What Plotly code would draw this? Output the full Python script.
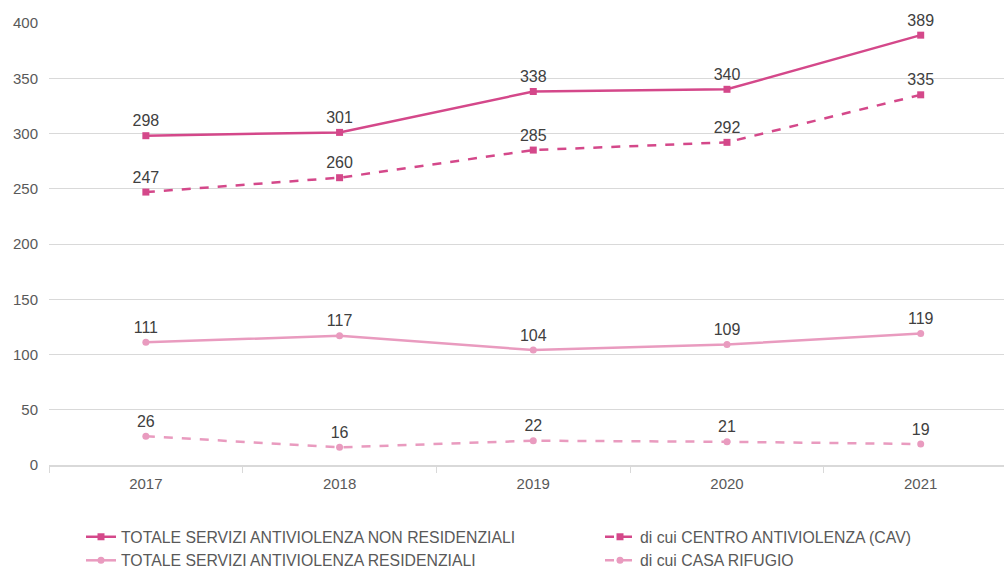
import plotly.graph_objects as go

anni = ["2017", "2018", "2019", "2020", "2021"]
non_residenziali = [298, 301, 338, 340, 389]
cav = [247, 260, 285, 292, 335]
residenziali = [111, 117, 104, 109, 119]
casa_rifugio = [26, 16, 22, 21, 19]

DARK = "#d4488a"
LIGHT = "#e99bbf"
TEXT = "#404040"

series = [
    ("TOTALE SERVIZI ANTIVIOLENZA NON RESIDENZIALI", non_residenziali, DARK, "solid", "square", "legend"),
    ("TOTALE SERVIZI ANTIVIOLENZA RESIDENZIALI", residenziali, LIGHT, "solid", "circle", "legend"),
    ("di cui CENTRO ANTIVIOLENZA (CAV)", cav, DARK, "dash", "square", "legend2"),
    ("di cui CASA RIFUGIO", casa_rifugio, LIGHT, "dash", "circle", "legend2"),
]

fig = go.Figure()
for name, vals, color, dash, symbol, leg in series:
    fig.add_trace(go.Scatter(
        x=anni, y=vals, name=name, mode="lines+markers+text",
        line=dict(color=color, width=2.5, dash=dash),
        marker=dict(color=color, size=7, symbol=symbol),
        text=[str(v) for v in vals], textposition="top center",
        textfont=dict(size=16, color=TEXT, family="Liberation Sans"),
        legend=leg, cliponaxis=False,
    ))

legend_style = dict(
    orientation="v", xref="container", yref="container",
    xanchor="left", yanchor="top",
    font=dict(size=15.8, color="#595959", family="Liberation Sans"),
    bgcolor="rgba(0,0,0,0)", itemwidth=30, tracegroupgap=0,
)

fig.update_layout(
    width=1004, height=571,
    margin=dict(l=49, r=0, t=23, b=106, autoexpand=False),
    paper_bgcolor="white", plot_bgcolor="white",
    font=dict(family="Liberation Sans", size=15, color="#595959"),
    xaxis=dict(
        type="category", range=[-0.5, 4.43], tickson="boundaries",
        ticks="outside", ticklen=6, tickcolor="#d9d9d9",
        showline=True, linecolor="#d9d9d9", linewidth=1.5,
        showgrid=False, tickfont=dict(size=15, color="#595959"),
        ticklabelstandoff=4,
    ),
    yaxis=dict(
        range=[0, 400], dtick=50, showgrid=True, gridcolor="#d9d9d9",
        gridwidth=1, zeroline=False, ticks="", ticklabelstandoff=10,
        tickfont=dict(size=15, color="#595959"),
    ),
    legend=dict(x=81 / 1004, y=(571 - 520) / 571, **legend_style),
    legend2=dict(x=600 / 1004, y=(571 - 520) / 571, **legend_style),
)

fig.write_html("out.html")
